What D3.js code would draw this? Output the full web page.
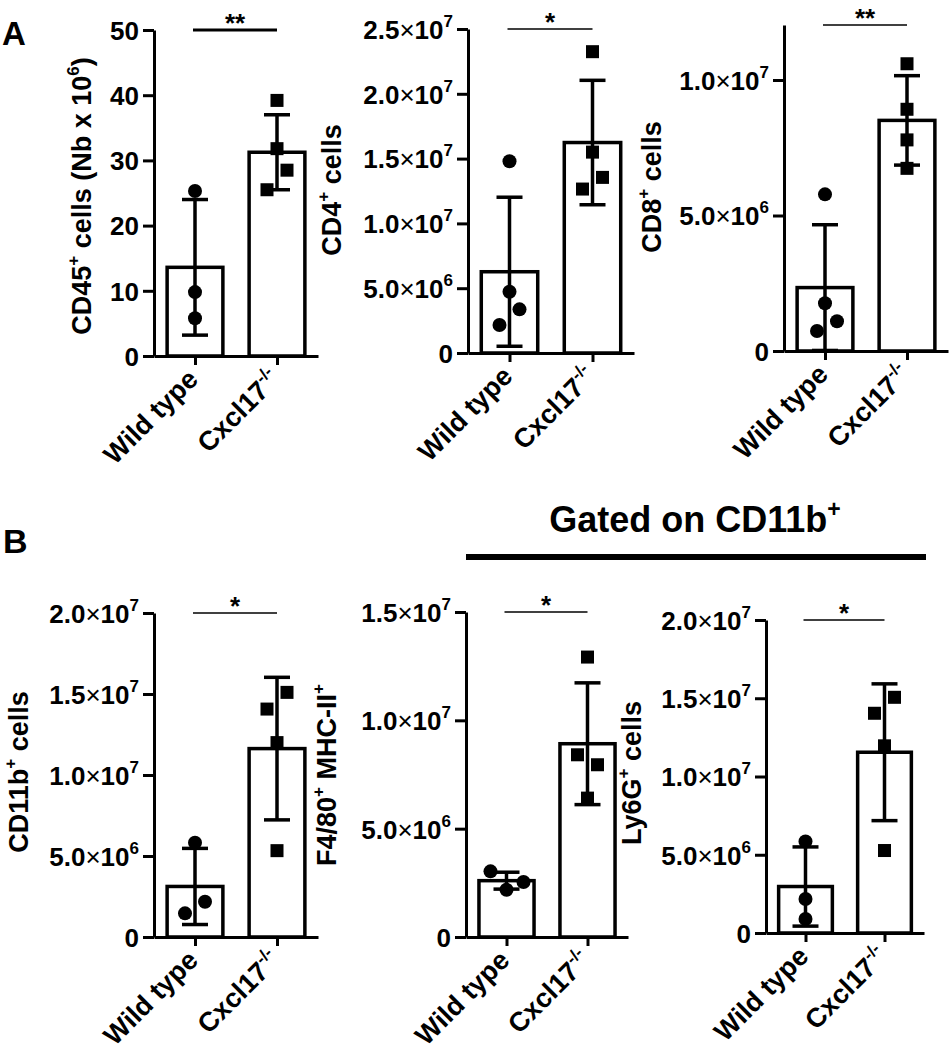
<!DOCTYPE html>
<html><head><meta charset="utf-8">
<script src="https://cdn.jsdelivr.net/npm/d3@7"></script>
<style>
body{margin:0;background:#fff}
svg{display:block}
text{font-family:"Liberation Sans",Arial,sans-serif;font-weight:bold;fill:#000}
</style>
</head><body>
<svg id="chart" width="949" height="1050"></svg>
<script>
// ---------------- DATA ----------------
const categories = ["Wild type", "Cxcl17"];

const cd45Points = [[25.3, 9.8, 5.8], [39.2, 31.8, 28.5, 25.5]];
const cd45Slots  = [[0, 0, 0], [0, 0, 1, -1]];
const cd45Mean   = [13.6, 31.25];
const cd45SD     = [10.4, 5.75];
const cd45Ticks  = [0, 10, 20, 30, 40, 50];

const cd4Points = [[14.8e6, 4.73e6, 3.37e6, 2.16e6], [23.25e6, 15.5e6, 13.55e6, 12.65e6]];
const cd4Slots  = [[0, 0, 1, -1], [0, 0, 1, -1]];
const cd4Mean   = [6.27e6, 16.24e6];
const cd4SD     = [5.75e6, 4.8e6];
const cd4Ticks  = [0, 5e6, 10e6, 15e6, 20e6, 25e6];

const cd8Points = [[5.78e6, 1.76e6, 1.1e6, 0.74e6], [10.6e6, 8.92e6, 7.79e6, 6.74e6]];
const cd8Slots  = [[0, 0, 1.2, -0.8], [0, 0, 0, 0]];
const cd8Mean   = [2.34e6, 8.51e6];
const cd8SD     = [2.32e6, 1.65e6];
const cd8Ticks  = [0, 5e6, 10e6];

const cd11bPoints = [[5.82e6, 2.18e6, 1.46e6], [15.1e6, 14.07e6, 12.0e6, 5.33e6]];
const cd11bSlots  = [[0, 1, -1], [1, -1, 0, 0]];
const cd11bMean   = [3.12e6, 11.63e6];
const cd11bSD     = [2.35e6, 4.4e6];
const cd11bTicks  = [0, 5e6, 10e6, 15e6, 20e6];

const f480Points = [[3.03e6, 2.54e6, 2.18e6], [12.92e6, 8.41e6, 7.95e6, 6.41e6]];
const f480Slots  = [[-1.6, 1.7, 0], [0, -1, 1, 0]];
const f480Mean   = [2.6e6, 8.92e6];
const f480SD     = [0.39e6, 2.81e6];
const f480Ticks  = [0, 5e6, 10e6, 15e6];

const ly6gPoints = [[5.85e6, 2.17e6, 0.89e6], [15.06e6, 14.04e6, 11.96e6, 5.27e6]];
const ly6gSlots  = [[0, 0, 0], [1, -1, 0, 0]];
const ly6gMean   = [2.97e6, 11.55e6];
const ly6gSD     = [2.53e6, 4.37e6];
const ly6gTicks  = [0, 5e6, 10e6, 15e6, 20e6];

const significance = ["**", "*", "**", "*", "*", "*"];

// ---------------- LAYOUT ----------------
const panels = [
  {pts: cd45Points, slots: cd45Slots, mean: cd45Mean, sd: cd45SD, ticks: cd45Ticks, max: 50, plain: true,
   ax: 154, top: 30, bottom: 356, w: 164, sigW: 3,
   title: [["CD45"], ["+", 1], [" cells (Nb x 10"], ["6", 1], [")"]], tx: 91, ty: 196},
  {pts: cd4Points, slots: cd4Slots, mean: cd4Mean, sd: cd4SD, ticks: cd4Ticks, max: 25e6,
   ax: 468, top: 29, bottom: 353, w: 166, sigW: 1.5,
   title: [["CD4"], ["+", 1], [" cells"]], tx: 341, ty: 190},
  {pts: cd8Points, slots: cd8Slots, mean: cd8Mean, sd: cd8SD, ticks: cd8Ticks, max: 12.03e6,
   ax: 784, top: 25, bottom: 351, w: 164, sigW: 1.5,
   title: [["CD8"], ["+", 1], [" cells"]], tx: 661, ty: 187},
  {pts: cd11bPoints, slots: cd11bSlots, mean: cd11bMean, sd: cd11bSD, ticks: cd11bTicks, max: 20e6,
   ax: 154, top: 613, bottom: 937, w: 164, sigW: 1.5,
   title: [["CD11b"], ["+", 1], [" cells"]], tx: 28, ty: 772},
  {pts: f480Points, slots: f480Slots, mean: f480Mean, sd: f480SD, ticks: f480Ticks, max: 15e6,
   ax: 466, top: 612, bottom: 937, w: 162, sigW: 1.5,
   title: [["F4/80"], ["+", 1], [" MHC-II"], ["+", 1]], tx: 336, ty: 775},
  {pts: ly6gPoints, slots: ly6gSlots, mean: ly6gMean, sd: ly6gSD, ticks: ly6gTicks, max: 20e6,
   ax: 766, top: 620, bottom: 933, w: 158, sigW: 1.5,
   title: [["Ly6G"], ["+", 1], [" cells"]], tx: 641, ty: 773}
];

const svg = d3.select("#chart");
const FS = 26;        // tick font size
const XFS = 27;       // category label font size
const TFS = 27;       // axis title font size

function addSegments(textSel, segs, fs, raise) {
  let raised = false;
  const r = fs * raise;
  segs.forEach(([t, sup]) => {
    const ts = textSel.append("tspan").text(t);
    if (sup) {
      ts.attr("font-size", Math.round(fs * 0.64)).attr("dy", raised ? 0 : -r);
      raised = true;
    } else {
      ts.attr("font-size", fs).attr("dy", raised ? r : 0);
      raised = false;
    }
  });
}

function tickSegments(v, plain) {
  if (plain || v === 0) return [[String(v)]];
  const e = Math.floor(Math.log10(v) + 1e-9);
  const m = (v / Math.pow(10, e)).toFixed(1);
  return [[m], ["×", 0, "x"], ["10"], [String(e), 1]];
}

panels.forEach((p, pi) => {
  const g = svg.append("g");
  const y = d3.scaleLinear().domain([0, p.max]).range([p.bottom, p.top]);
  const x = d3.scalePoint().domain(categories).range([p.ax, p.ax + p.w]).padding(0.5);
  const bw = x.step() * 0.68;
  const jit = d3.scaleLinear().domain([-1, 1]).range([-10, 10]);

  // bars
  g.selectAll("rect.bar").data(categories).join("rect").attr("class", "bar")
    .attr("x", d => x(d) - bw / 2)
    .attr("y", (d, i) => y(p.mean[i]))
    .attr("width", bw)
    .attr("height", (d, i) => y(0) - y(p.mean[i]))
    .attr("fill", "#fff").attr("stroke", "#000").attr("stroke-width", 3.5);

  // error bars
  const capW = 26;
  categories.forEach((c, i) => {
    const lo = Math.max(0, p.mean[i] - p.sd[i]), hi = p.mean[i] + p.sd[i];
    const eg = g.append("g").attr("stroke", "#000").attr("stroke-width", 3.5);
    eg.append("line").attr("x1", x(c)).attr("x2", x(c)).attr("y1", y(lo)).attr("y2", y(hi));
    eg.append("line").attr("x1", x(c) - capW / 2).attr("x2", x(c) + capW / 2).attr("y1", y(hi)).attr("y2", y(hi));
    eg.append("line").attr("x1", x(c) - capW / 2).attr("x2", x(c) + capW / 2).attr("y1", y(lo)).attr("y2", y(lo));
  });

  // points
  const wt = p.pts[0].map((v, j) => ({v, s: p.slots[0][j]}));
  const ko = p.pts[1].map((v, j) => ({v, s: p.slots[1][j]}));
  g.selectAll("circle.pt").data(wt).join("circle").attr("class", "pt")
    .attr("cx", d => x(categories[0]) + jit(d.s)).attr("cy", d => y(d.v)).attr("r", 7).attr("fill", "#000");
  const sq = 13;
  g.selectAll("rect.pt").data(ko).join("rect").attr("class", "pt")
    .attr("x", d => x(categories[1]) + jit(d.s) - sq / 2).attr("y", d => y(d.v) - sq / 2)
    .attr("width", sq).attr("height", sq).attr("fill", "#000");

  // y axis
  const yAxis = g.append("g").attr("transform", `translate(${p.ax},0)`)
    .call(d3.axisLeft(y).tickValues(p.ticks).tickSize(11).tickSizeOuter(0).tickFormat(""));
  yAxis.selectAll("path,line").attr("stroke", "#000").attr("stroke-width", 3);
  yAxis.selectAll(".tick text").remove();
  yAxis.selectAll(".tick").each(function (d) {
    const t = d3.select(this).append("text").attr("x", -15).attr("y", 0).attr("dy", "0.36em")
      .attr("text-anchor", "end").attr("font-size", FS);
    tickSegments(d, p.plain).forEach(seg => {
      const ts = t.append("tspan").text(seg[0]);
      if (seg[2] === "x") ts.attr("font-weight", "normal").attr("font-size", FS);
      else if (seg[1]) ts.attr("font-size", 17).attr("dy", -12);
      else ts.attr("font-size", FS);
    });
  });

  // x axis
  const xAxis = g.append("g").attr("transform", `translate(0,${p.bottom})`)
    .call(d3.axisBottom(x).tickSize(9).tickSizeOuter(0).tickFormat(""));
  xAxis.selectAll("path,line").attr("stroke", "#000").attr("stroke-width", 3);
  xAxis.selectAll(".tick text").remove();
  xAxis.selectAll(".tick").each(function (d, i) {
    const t = d3.select(this).append("text")
      .attr("transform", "translate(4,25) rotate(-45)")
      .attr("text-anchor", "end").attr("font-size", XFS);
    if (i === 0) t.text(d);
    else addSegments(t, [[d], ["-/-", 1]], XFS, 0.42);
  });

  // significance
  const x0 = x(categories[0]) - 2, x1 = x(categories[1]);
  g.append("line").attr("x1", x0).attr("x2", x1).attr("y1", p.top).attr("y2", p.top)
    .attr("stroke", "#000").attr("stroke-width", p.sigW);
  g.append("text").attr("x", (x0 + x1) / 2).attr("y", p.top + 2).attr("text-anchor", "middle")
    .attr("font-size", FS).text(significance[pi]);

  // y title
  const tt = g.append("text").attr("transform", `translate(${p.tx},${p.ty}) rotate(-90)`)
    .attr("text-anchor", "middle").attr("dy", "0.35em").attr("font-size", TFS);
  addSegments(tt, p.title, TFS, 0.45);
});

// panel letters
svg.append("text").attr("x", 2).attr("y", 45).attr("font-size", 33).text("A");
svg.append("text").attr("x", 3).attr("y", 553).attr("font-size", 34).text("B");

// gated annotation spanning last two B panels
const gx0 = panels[4].ax, gx1 = panels[5].ax + panels[5].w;
svg.append("line").attr("x1", gx0).attr("x2", gx1 + 2).attr("y1", 557).attr("y2", 557)
  .attr("stroke", "#000").attr("stroke-width", 6);
const gt = svg.append("text").attr("x", (gx0 + gx1) / 2).attr("y", 532).attr("text-anchor", "middle").attr("font-size", 36);
addSegments(gt, [["Gated on CD11b"], ["+", 1]], 36, 0.42);
</script>
</body></html>
